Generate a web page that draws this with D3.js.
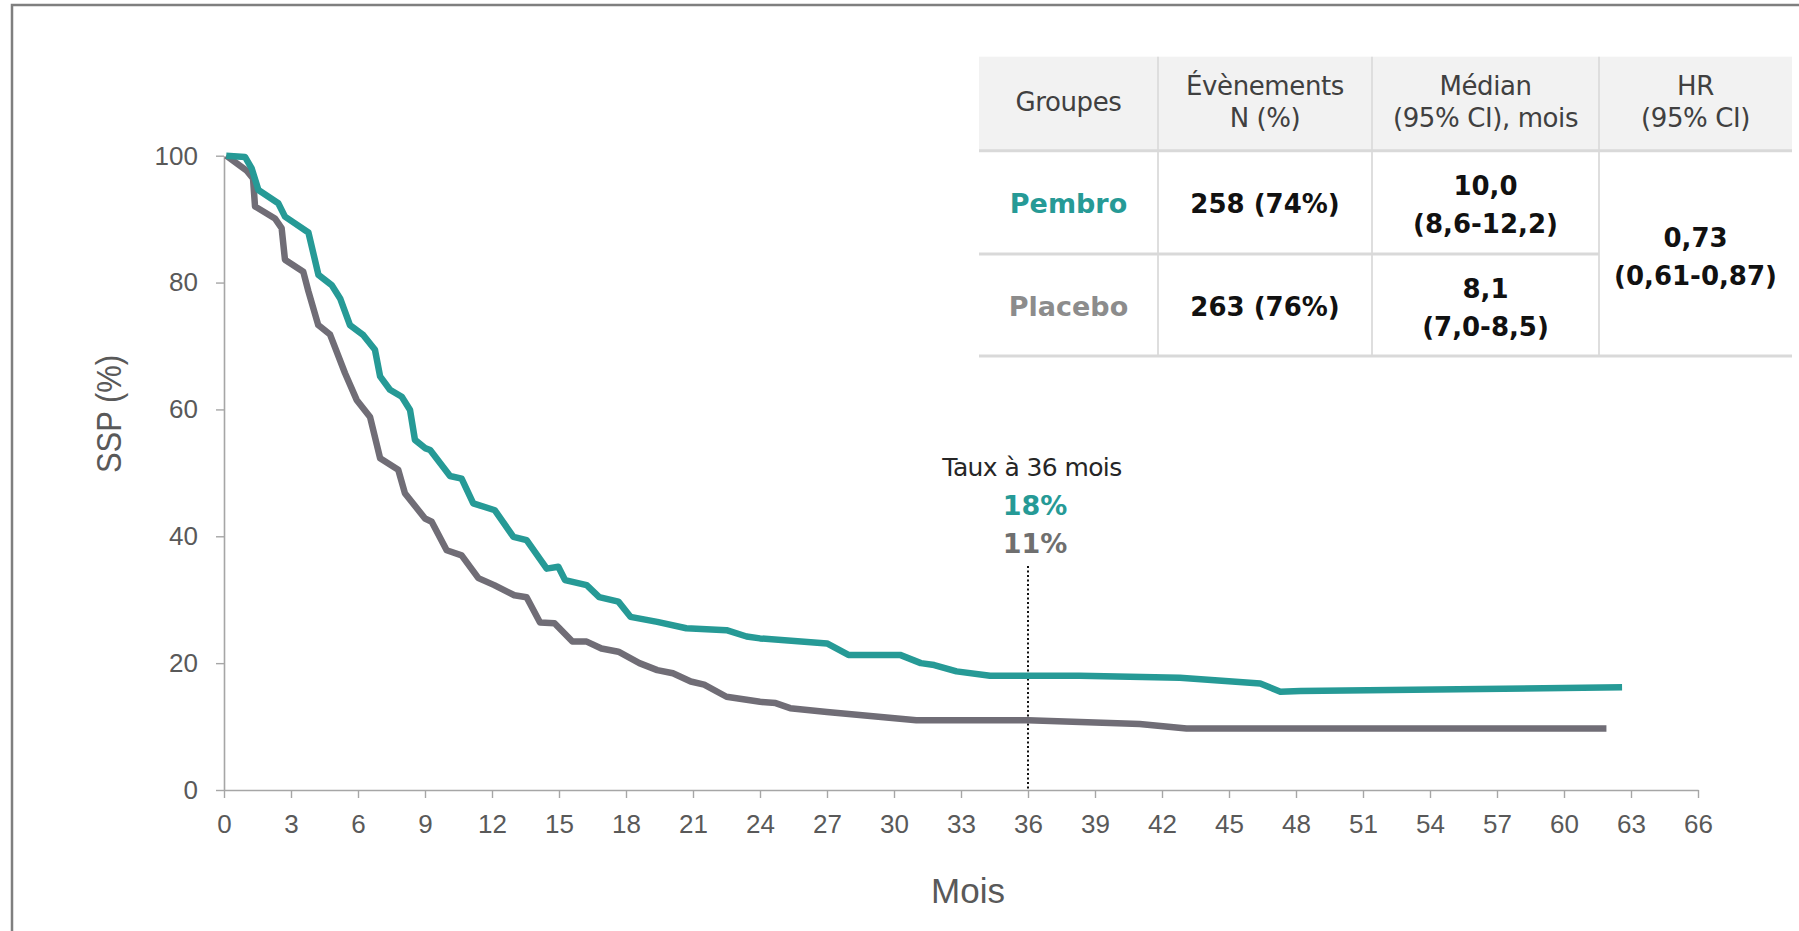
<!DOCTYPE html>
<html>
<head>
<meta charset="utf-8">
<script src="https://cdn.jsdelivr.net/npm/d3@7"></script>
<style>
  html, body { margin: 0; padding: 0; background: #ffffff; }
  svg { display: block; }
</style>
</head>
<body>
<svg id="chart" width="1799" height="931"></svg>
<script>
// ---- Data ----
const pembroMonths = [0.1, 0.94, 1.24, 1.54, 2.43, 2.73, 3.78, 4.23, 4.82, 5.2, 5.64, 6.24, 6.76, 6.99, 7.43, 7.96, 8.33, 8.55, 9.0, 9.23, 10.12, 10.64, 11.16, 12.13, 12.96, 13.55, 14.45, 14.97, 15.27, 16.24, 16.8, 17.66, 18.2, 19.4, 20.7, 22.5, 23.4, 24.0, 27.0, 27.96, 30.27, 31.2, 31.8, 32.8, 34.3, 36.0, 38.3, 42.8, 46.4, 47.3, 48.2, 62.6];
const pembroSSP    = [100, 99.8, 98, 94.6, 92.5, 90.4, 87.9, 81.2, 79.6, 77.5, 73.3, 71.7, 69.4, 65.2, 63.1, 62.0, 59.9, 55.2, 53.9, 53.6, 49.5, 49.1, 45.2, 44.1, 39.9, 39.4, 34.9, 35.2, 33.1, 32.3, 30.4, 29.7, 27.3, 26.5, 25.5, 25.2, 24.2, 23.9, 23.1, 21.3, 21.3, 20.0, 19.7, 18.7, 18.0, 18.0, 18.0, 17.7, 16.8, 15.5, 15.6, 16.2];

const placeboMonths = [0.1, 1.0, 1.3, 1.39, 2.28, 2.58, 2.73, 3.55, 3.78, 4.22, 4.75, 5.42, 5.94, 6.54, 6.99, 7.8, 8.1, 9.0, 9.3, 9.97, 10.64, 11.39, 12.1, 13.0, 13.55, 14.15, 14.8, 15.6, 16.24, 16.9, 17.66, 18.6, 19.4, 20.1, 20.9, 21.5, 22.5, 24.0, 24.7, 25.35, 27.0, 31.0, 34.0, 36.0, 41.0, 43.1, 61.9];
const placeboSSP    = [100, 97.7, 96.4, 92.0, 90.1, 88.6, 83.6, 81.7, 78.6, 73.3, 71.8, 65.7, 61.5, 58.8, 52.3, 50.5, 46.8, 42.8, 42.3, 37.8, 37.0, 33.4, 32.3, 30.7, 30.4, 26.4, 26.3, 23.4, 23.4, 22.3, 21.8, 20.0, 18.9, 18.4, 17.1, 16.6, 14.7, 13.9, 13.7, 12.9, 12.3, 11.0, 11.0, 11.0, 10.4, 9.7, 9.7];

const xTicks = d3.range(0, 67, 3);
const yTicks = [0, 20, 40, 60, 80, 100];

const landmarkMonth = 36;
const landmarkPembro = 18;
const landmarkPlacebo = 11;

const headerLines = [["Groupes"], ["Évènements", "N (%)"], ["Médian", "(95% CI), mois"], ["HR", "(95% CI)"]];
const groupNames = ["Pembro", "Placebo"];
const eventsText = ["258 (74%)", "263 (76%)"];
const medianText = [["10,0", "(8,6-12,2)"], ["8,1", "(7,0-8,5)"]];
const hrText = ["0,73", "(0,61-0,87)"];

// ---- Styles ----
const TEAL = "#269a96";
const GREY = "#706d76";
const AXIS = "#a6a6a6";
const TICK_TEXT = "#595959";
const FONT_AXIS = "'Liberation Sans', Arial, sans-serif";
const FONT_TABLE = "'DejaVu Sans', sans-serif";

const svg = d3.select("#chart");

// outer frame (top and left edges)
svg.append("path")
  .attr("d", "M12,931 L12,5 L1799,5")
  .attr("fill", "none")
  .attr("stroke", "#7f7f7f")
  .attr("stroke-width", 2.5);

// ---- Scales & axes ----
const x = d3.scaleLinear().domain([0, 66]).range([224, 1698]);
const y = d3.scaleLinear().domain([0, 100]).range([790, 155.7]);

const xAxis = svg.append("g")
  .attr("transform", `translate(0,${y(0)})`)
  .call(d3.axisBottom(x).tickValues(xTicks).tickSize(8).tickPadding(17).tickSizeOuter(0));
const yAxis = svg.append("g")
  .attr("transform", `translate(${x(0)},0)`)
  .call(d3.axisLeft(y).tickValues(yTicks).tickSize(8).tickPadding(18).tickSizeOuter(0));

[xAxis, yAxis].forEach(g => {
  g.select(".domain").attr("stroke", AXIS).attr("stroke-width", 1.6);
  g.selectAll(".tick line").attr("stroke", AXIS).attr("stroke-width", 1.4);
  g.selectAll(".tick text")
    .attr("fill", TICK_TEXT)
    .style("font-family", FONT_AXIS)
    .style("font-size", "26px");
});

// axis titles
svg.append("text")
  .attr("transform", "translate(121,414) rotate(-90)")
  .attr("text-anchor", "middle")
  .attr("fill", TICK_TEXT)
  .attr("textLength", 118)
  .attr("lengthAdjust", "spacingAndGlyphs")
  .style("font-family", FONT_AXIS)
  .style("font-size", "35px")
  .text("SSP (%)");

svg.append("text")
  .attr("x", 968)
  .attr("y", 903)
  .attr("text-anchor", "middle")
  .attr("fill", TICK_TEXT)
  .style("font-family", FONT_AXIS)
  .style("font-size", "35px")
  .text("Mois");

// ---- Landmark at 36 months ----
svg.append("line")
  .attr("x1", x(landmarkMonth)).attr("x2", x(landmarkMonth))
  .attr("y1", 566).attr("y2", y(0))
  .attr("stroke", "#111")
  .attr("stroke-width", 2)
  .attr("stroke-dasharray", "2,2.5");

svg.append("text")
  .attr("x", x(landmarkMonth) + 4).attr("y", 476)
  .attr("text-anchor", "middle")
  .attr("fill", "#262626")
  .style("font-family", FONT_TABLE)
  .style("font-size", "25px")
  .style("letter-spacing", "-0.6px")
  .text(`Taux à ${landmarkMonth} mois`);

svg.append("text")
  .attr("x", x(landmarkMonth) + 7).attr("y", 515)
  .attr("text-anchor", "middle")
  .attr("fill", TEAL)
  .style("font-family", FONT_TABLE)
  .style("font-size", "27px")
  .style("font-weight", "bold")
  .text(`${landmarkPembro}%`);

svg.append("text")
  .attr("x", x(landmarkMonth) + 7).attr("y", 553)
  .attr("text-anchor", "middle")
  .attr("fill", "#6f6f6f")
  .style("font-family", FONT_TABLE)
  .style("font-size", "27px")
  .style("font-weight", "bold")
  .text(`${landmarkPlacebo}%`);

// ---- Survival curves ----
const line = d3.line().x(d => x(d[0])).y(d => y(d[1]));

const placeboPts = placeboMonths.map((m, i) => [m, placeboSSP[i]]);
const pembroPts = pembroMonths.map((m, i) => [m, pembroSSP[i]]);

svg.append("path")
  .attr("d", line(placeboPts))
  .attr("fill", "none")
  .attr("stroke", GREY)
  .attr("stroke-width", 6.5)
  .attr("stroke-linejoin", "round");

svg.append("path")
  .attr("d", line(pembroPts))
  .attr("fill", "none")
  .attr("stroke", TEAL)
  .attr("stroke-width", 6.5)
  .attr("stroke-linejoin", "round");

// ---- Summary table ----
const colEdges = [979, 1158, 1372, 1599, 1792];
const rowEdges = [56.7, 150.7, 254, 356];
const colCenter = i => (colEdges[i] + colEdges[i + 1]) / 2;

const table = svg.append("g");

table.append("rect")
  .attr("x", colEdges[0]).attr("y", rowEdges[0])
  .attr("width", colEdges[4] - colEdges[0])
  .attr("height", rowEdges[1] - rowEdges[0])
  .attr("fill", "#f2f2f2");

// vertical separators
colEdges.slice(1, 4).forEach(cx => {
  table.append("line")
    .attr("x1", cx).attr("x2", cx)
    .attr("y1", rowEdges[0]).attr("y2", rowEdges[3])
    .attr("stroke", "#dedede").attr("stroke-width", 2);
});

// horizontal rules
[[rowEdges[1], colEdges[4]], [rowEdges[2], colEdges[3]], [rowEdges[3], colEdges[4]]].forEach(([ry, xe]) => {
  table.append("line")
    .attr("x1", colEdges[0]).attr("x2", xe)
    .attr("y1", ry).attr("y2", ry)
    .attr("stroke", "#d9d9d9").attr("stroke-width", 3);
});

// header
headerLines.forEach((lines, i) => {
  const t = table.append("text")
    .attr("text-anchor", "middle")
    .attr("fill", "#404040")
    .style("font-family", FONT_TABLE)
    .style("font-size", "26px")
    .style("letter-spacing", "-0.4px");
  if (lines.length === 1) {
    t.append("tspan").attr("x", colCenter(i)).attr("y", 111).text(lines[0]);
  } else {
    t.append("tspan").attr("x", colCenter(i)).attr("y", 95).text(lines[0]);
    t.append("tspan").attr("x", colCenter(i)).attr("y", 127).text(lines[1]);
  }
});

const rowMid = [(rowEdges[1] + rowEdges[2]) / 2, (rowEdges[2] + rowEdges[3]) / 2];
const groupColors = [TEAL, "#8c8c8c"];

groupNames.forEach((g, r) => {
  table.append("text")
    .attr("x", colCenter(0)).attr("y", rowMid[r] + 11)
    .attr("text-anchor", "middle")
    .attr("fill", groupColors[r])
    .style("font-family", FONT_TABLE)
    .style("font-size", "27px")
    .style("font-weight", "bold")
    .text(g);

  table.append("text")
    .attr("x", colCenter(1)).attr("y", rowMid[r] + 11)
    .attr("text-anchor", "middle")
    .attr("fill", "#111")
    .style("font-family", FONT_TABLE)
    .style("font-size", "26px")
    .style("font-weight", "bold")
    .text(eventsText[r]);

  const m = table.append("text")
    .attr("text-anchor", "middle")
    .attr("fill", "#111")
    .style("font-family", FONT_TABLE)
    .style("font-size", "26px")
    .style("font-weight", "bold");
  m.append("tspan").attr("x", colCenter(2)).attr("y", rowMid[r] - 7).text(medianText[r][0]);
  m.append("tspan").attr("x", colCenter(2)).attr("y", rowMid[r] + 31).text(medianText[r][1]);
});

const hr = table.append("text")
  .attr("text-anchor", "middle")
  .attr("fill", "#111")
  .style("font-family", FONT_TABLE)
  .style("font-size", "26px")
  .style("font-weight", "bold");
hr.append("tspan").attr("x", colCenter(3)).attr("y", 247).text(hrText[0]);
hr.append("tspan").attr("x", colCenter(3)).attr("y", 285).text(hrText[1]);
</script>
</body>
</html>
